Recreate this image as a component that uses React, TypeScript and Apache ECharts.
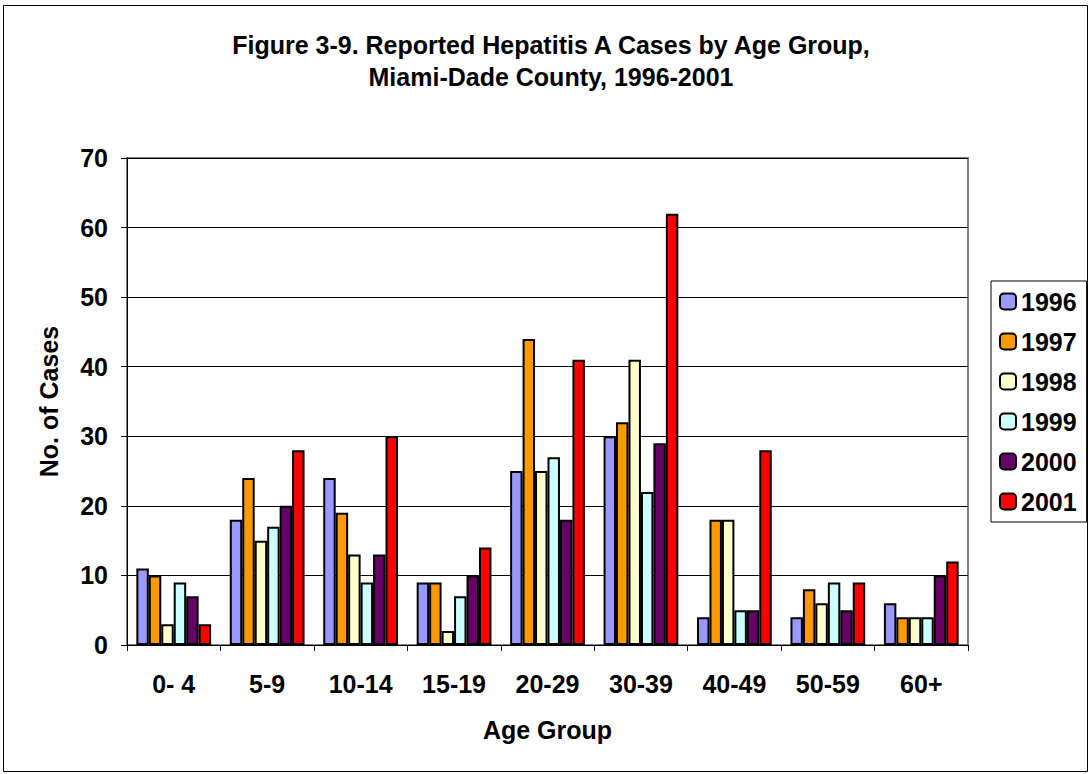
import React, { useEffect, useRef } from "react";
import * as echarts from "echarts";

const categories = ["0- 4", "5-9", "10-14", "15-19", "20-29", "30-39", "40-49", "50-59", "60+"];
const years = ["1996", "1997", "1998", "1999", "2000", "2001"];
const colors = ["#9999FF", "#FF9900", "#FFFFCC", "#CCFFFF", "#660066", "#FF0000"];
const v1996 = [11, 18, 24, 9, 25, 30, 4, 4, 6];
const v1997 = [10, 24, 19, 9, 44, 32, 18, 8, 4];
const v1998 = [3, 15, 13, 2, 25, 41, 18, 6, 4];
const v1999 = [9, 17, 9, 7, 27, 22, 5, 9, 4];
const v2000 = [7, 20, 13, 10, 18, 29, 5, 5, 10];
const v2001 = [3, 28, 30, 14, 41, 62, 28, 9, 12];
const seriesValues = [v1996, v1997, v1998, v1999, v2000, v2001];
const titleLines = ["Figure 3-9. Reported Hepatitis A Cases by Age Group,", "Miami-Dade County, 1996-2001"];

const FONT = "'Liberation Sans', Arial, sans-serif";

export default function App() {
  const ref = useRef<HTMLDivElement>(null);
  useEffect(() => {
    if (!ref.current) return;
    const chart = echarts.init(ref.current, null, { renderer: "svg" });
    chart.setOption({
      animation: false,
      backgroundColor: "#ffffff",
      textStyle: { fontFamily: FONT },
      legend: {
        orient: "vertical",
        left: 991,
        top: 281,
        width: 85,
        padding: [8, 10, 8, 8],
        itemWidth: 16,
        itemHeight: 16,
        itemGap: 15,
        borderColor: "#000",
        borderWidth: 1,
        backgroundColor: "#fff",
        data: years,
        itemStyle: { borderColor: "#000", borderWidth: 2 },
        textStyle: { fontFamily: FONT, fontSize: 25, lineHeight: 25, fontWeight: "bold", color: "#000" },
      },
      grid: {
        left: 127,
        right: 123,
        top: 158,
        bottom: 129,
        show: true,
        borderColor: "#808080",
        borderWidth: 2,
        backgroundColor: "#fff",
      },
      xAxis: {
        type: "category",
        data: categories,
        name: "Age Group",
        nameLocation: "middle",
        nameGap: 72,
        nameTextStyle: { fontFamily: FONT, fontSize: 25, fontWeight: "bold", color: "#000" },
        axisLine: { show: true, lineStyle: { color: "#000", width: 1 } },
        axisTick: { show: true, alignWithLabel: false, length: 6, lineStyle: { color: "#000" } },
        axisLabel: { fontFamily: FONT, fontSize: 25, fontWeight: "bold", color: "#000", margin: 26 },
      },
      yAxis: {
        type: "value",
        min: 0,
        max: 70,
        interval: 10,
        name: "No. of Cases",
        nameLocation: "middle",
        nameGap: 66,
        nameTextStyle: { fontFamily: FONT, fontSize: 25, fontWeight: "bold", color: "#000" },
        axisLine: { show: true, lineStyle: { color: "#000", width: 1 } },
        axisTick: { show: true, length: 6, lineStyle: { color: "#000" } },
        axisLabel: { fontFamily: FONT, fontSize: 25, fontWeight: "bold", color: "#000", margin: 19 },
        splitLine: { show: true, lineStyle: { color: "#000", width: 1 } },
      },
      series: years.map((y, i) => ({
        name: y,
        type: "bar",
        data: seriesValues[i],
        barGap: "0%",
        barCategoryGap: "20%",
        itemStyle: { color: colors[i], borderColor: "#000", borderWidth: 2 },
      })),
      graphic: [
        {
          type: "rect",
          shape: { x: 3.5, y: 5.5, width: 1084, height: 766 },
          style: { fill: "none", stroke: "#000", lineWidth: 1 },
          silent: true,
          z: -1,
        },
        ...titleLines.map((t, i) => ({
          type: "text",
          x: 551,
          y: 44.5 + i * 32,
          style: {
            text: t,
            fontFamily: FONT,
            fontSize: 25,
            fontWeight: "bold",
            fill: "#000",
            align: "center",
            verticalAlign: "middle",
          },
          silent: true,
        })),
      ],
    });
    return () => chart.dispose();
  }, []);
  return (
    <div
      ref={ref}
      style={{ position: "fixed", left: 0, top: 0, width: 1091, height: 774 }}
    />
  );
}
